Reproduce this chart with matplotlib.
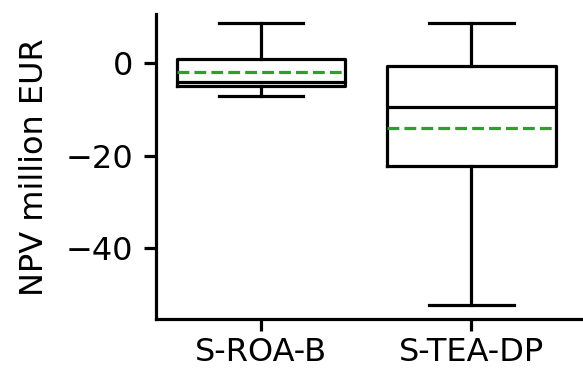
import matplotlib
matplotlib.use('Agg')
import matplotlib.pyplot as plt

# NPV distribution summary per scenario (million EUR)
labels = ['S-ROA-B', 'S-TEA-DP']
whislo = [-7.0, -52.4]
q1 = [-4.85, -22.2]
med = [-4.05, -9.4]
mean = [-1.9, -14.0]
q3 = [0.95, -0.5]
whishi = [8.7, 8.7]

stats = []
for i in range(len(labels)):
    stats.append({'label': labels[i], 'whislo': whislo[i], 'q1': q1[i],
                  'med': med[i], 'mean': mean[i], 'q3': q3[i],
                  'whishi': whishi[i], 'fliers': []})

plt.rcParams['font.family'] = 'DejaVu Sans'
fig = plt.figure(figsize=(5.83, 3.71), dpi=100)
ax = fig.add_axes([0.267, 0.139, 0.733, 0.823])

lw = 2.3
ax.bxp(stats, widths=0.8, showmeans=True, meanline=True,
       boxprops=dict(color='black', linewidth=lw),
       whiskerprops=dict(color='black', linewidth=lw),
       capprops=dict(color='black', linewidth=lw),
       medianprops=dict(color='black', linewidth=lw),
       meanprops=dict(color='#2ca02c', linewidth=lw, linestyle='--'))

ax.set_xlim(0.5, 2.53)
ax.set_ylim(-55.5, 10.7)
ax.set_yticks([0, -20, -40])
ax.set_ylabel('NPV million EUR', fontsize=23, labelpad=11)
ax.tick_params(labelsize=23, width=lw, length=8.3)
ax.tick_params(axis='y', pad=8)
ax.tick_params(axis='x', pad=4.5)
for s in ['top', 'right']:
    ax.spines[s].set_visible(False)
for s in ['left', 'bottom']:
    ax.spines[s].set_linewidth(lw)

fig.savefig('out.png', dpi=100)
